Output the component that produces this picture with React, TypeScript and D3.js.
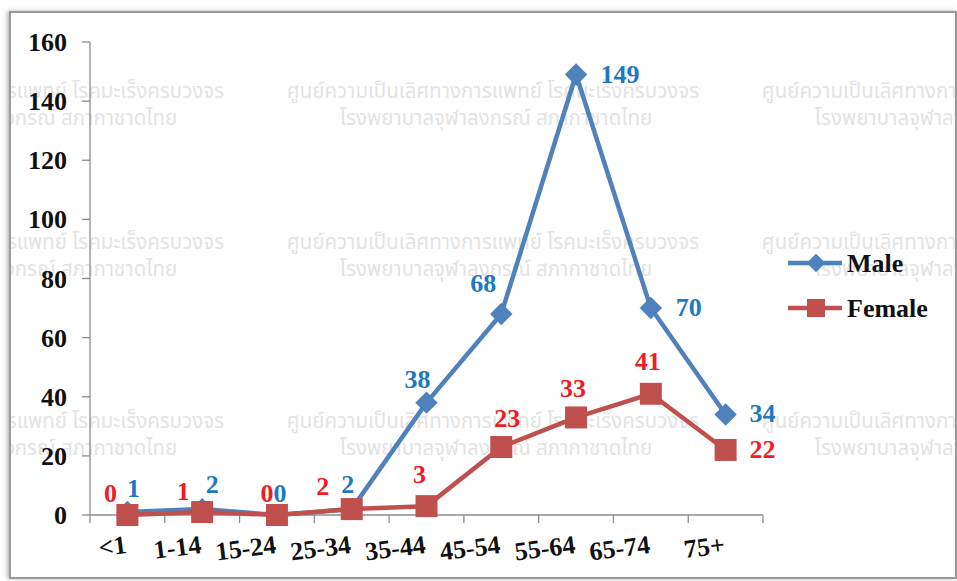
import React from "react";
import * as d3 from "d3";

const categories = ["<1", "1-14", "15-24", "25-34", "35-44", "45-54", "55-64", "65-74", "75+"];
const maleValues = [1, 2, 0, 2, 38, 68, 149, 70, 34];
const femaleValues = [0, 1, 0, 2, 3, 23, 33, 41, 22];
const yTicks = [0, 20, 40, 60, 80, 100, 120, 140, 160];
const seriesNames = ["Male", "Female"];
const watermarkLines = [
  "ศูนย์ความเป็นเลิศทางการแพทย์ โรคมะเร็งครบวงจร",
  "โรงพยาบาลจุฬาลงกรณ์ สภากาชาดไทย",
];

// label placement offsets from each point (layout only)
const maleLabelPos = [
  [6, -15], [10, -16], [3, -13], [-4, -16], [-9, -15], [-18, -22], [44, 8], [38, 8], [37, 8],
];
const femaleLabelPos = [
  [-17, -13], [-19, -12], [-10, -13], [-29, -14], [-7, -23], [6, -20], [-3, -20], [-3, -24], [37, 8],
];

const W = 957;
const H = 581;
const left = 90;
const right = 763;
const top = 42;
const bottom = 515;

const MALE_LINE = "#4F81BD";
const FEMALE_LINE = "#C0504D";
const MALE_TEXT = "#1F78C0";
const FEMALE_TEXT = "#EE1C25";
const serif = "'Liberation Serif', 'Times New Roman', serif";

export default function App() {
  const x = d3.scaleBand<string>().domain(categories).range([left, right]).padding(0);
  const y = d3.scaleLinear().domain([0, 160]).range([bottom, top]);
  const cx = (i: number) => (x(categories[i]) as number) + x.bandwidth() / 2;
  const line = d3
    .line<number>()
    .x((_, i) => cx(i))
    .y((d) => y(d));
  const diamond = d3.symbol().type(d3.symbolDiamond2).size(320)();
  const legendDiamond = d3.symbol().type(d3.symbolDiamond2).size(220)();
  const boundaries = [...categories.map((c) => x(c) as number), right];

  const wmRows = [92, 243, 422];
  const wmCols = [18, 493, 968];

  return (
    <svg
      width={W}
      height={H}
      style={{ position: "absolute", left: 0, top: 0, display: "block", background: "#fff" }}
    >
      <defs>
        <filter id="sh" x="-5%" y="-5%" width="110%" height="110%">
          <feDropShadow dx="-2" dy="0" stdDeviation="2" floodColor="#888" floodOpacity="0.6" />
        </filter>
        <clipPath id="frame">
          <rect x={11} y={13} width={944} height={564} />
        </clipPath>
      </defs>
      <rect x={0} y={0} width={W} height={H} fill="#fff" />
      <rect x={10} y={12} width={946} height={566} fill="#fff" stroke="#9a9a9a" strokeWidth={2} filter="url(#sh)" />

      {/* watermark */}
      <g
        clipPath="url(#frame)"
        fill="#e3e3e3"
        fontFamily="'Noto Sans Thai', 'Noto Sans', 'DejaVu Sans', sans-serif"
        fontSize={20.5}
        textAnchor="middle"
      >
        {wmRows.map((ry) =>
          wmCols.map((rx) => (
            <g key={`${rx}-${ry}`}>
              <text x={rx} y={ry + 6}>{watermarkLines[0]}</text>
              <text x={rx + 3} y={ry + 33}>{watermarkLines[1]}</text>
            </g>
          ))
        )}
      </g>

      {/* axes */}
      <g stroke="#8c8c8c" strokeWidth={1.3}>
        <line x1={left} y1={top} x2={left} y2={bottom} />
        <line x1={left} y1={bottom} x2={right} y2={bottom} />
        {yTicks.map((t) => (
          <line key={t} x1={left - 8} y1={y(t)} x2={left} y2={y(t)} />
        ))}
        {boundaries.map((b, i) => (
          <line key={i} x1={b} y1={bottom} x2={b} y2={bottom + 8} />
        ))}
      </g>
      <g fontFamily={serif} fontWeight="bold" fontSize={26} fill="#111" textAnchor="end">
        {yTicks.map((t) => (
          <text key={t} x={left - 23} y={y(t) + 9}>{t}</text>
        ))}
      </g>
      <g fontFamily={serif} fontWeight="bold" fontSize={26} fill="#111" textAnchor="end">
        {categories.map((c, i) => (
          <text key={c} transform={`translate(${cx(i)},${bottom + 38}) rotate(-7)`}>{c}</text>
        ))}
      </g>

      {/* lines */}
      <path d={line(maleValues) as string} fill="none" stroke={MALE_LINE} strokeWidth={4.5} strokeLinejoin="round" />
      <path d={line(femaleValues) as string} fill="none" stroke={FEMALE_LINE} strokeWidth={4.5} strokeLinejoin="round" />
      {maleValues.map((v, i) => (
        <path key={i} d={diamond as string} transform={`translate(${cx(i)},${y(v)})`} fill={MALE_LINE} />
      ))}
      {femaleValues.map((v, i) => (
        <rect key={i} x={cx(i) - 11} y={y(v) - 11} width={22} height={22} fill={FEMALE_LINE} />
      ))}

      {/* data labels */}
      <g fontFamily={serif} fontWeight="bold" fontSize={26} textAnchor="middle">
        {maleValues.map((v, i) => (
          <text key={i} x={cx(i) + maleLabelPos[i][0]} y={y(v) + maleLabelPos[i][1]} fill={MALE_TEXT}>{v}</text>
        ))}
        {femaleValues.map((v, i) => (
          <text key={i} x={cx(i) + femaleLabelPos[i][0]} y={y(v) + femaleLabelPos[i][1]} fill={FEMALE_TEXT}>{v}</text>
        ))}
      </g>

      {/* legend */}
      <g>
        <line x1={788} y1={263} x2={842} y2={263} stroke={MALE_LINE} strokeWidth={4.5} />
        <path d={legendDiamond as string} transform="translate(816,263)" fill={MALE_LINE} />
        <text x={847} y={272} fontFamily={serif} fontWeight="bold" fontSize={26} fill="#111">{seriesNames[0]}</text>
        <line x1={788} y1={308} x2={842} y2={308} stroke={FEMALE_LINE} strokeWidth={4.5} />
        <rect x={807} y={299} width={18} height={18} fill={FEMALE_LINE} />
        <text x={847} y={317} fontFamily={serif} fontWeight="bold" fontSize={26} fill="#111">{seriesNames[1]}</text>
      </g>
    </svg>
  );
}
